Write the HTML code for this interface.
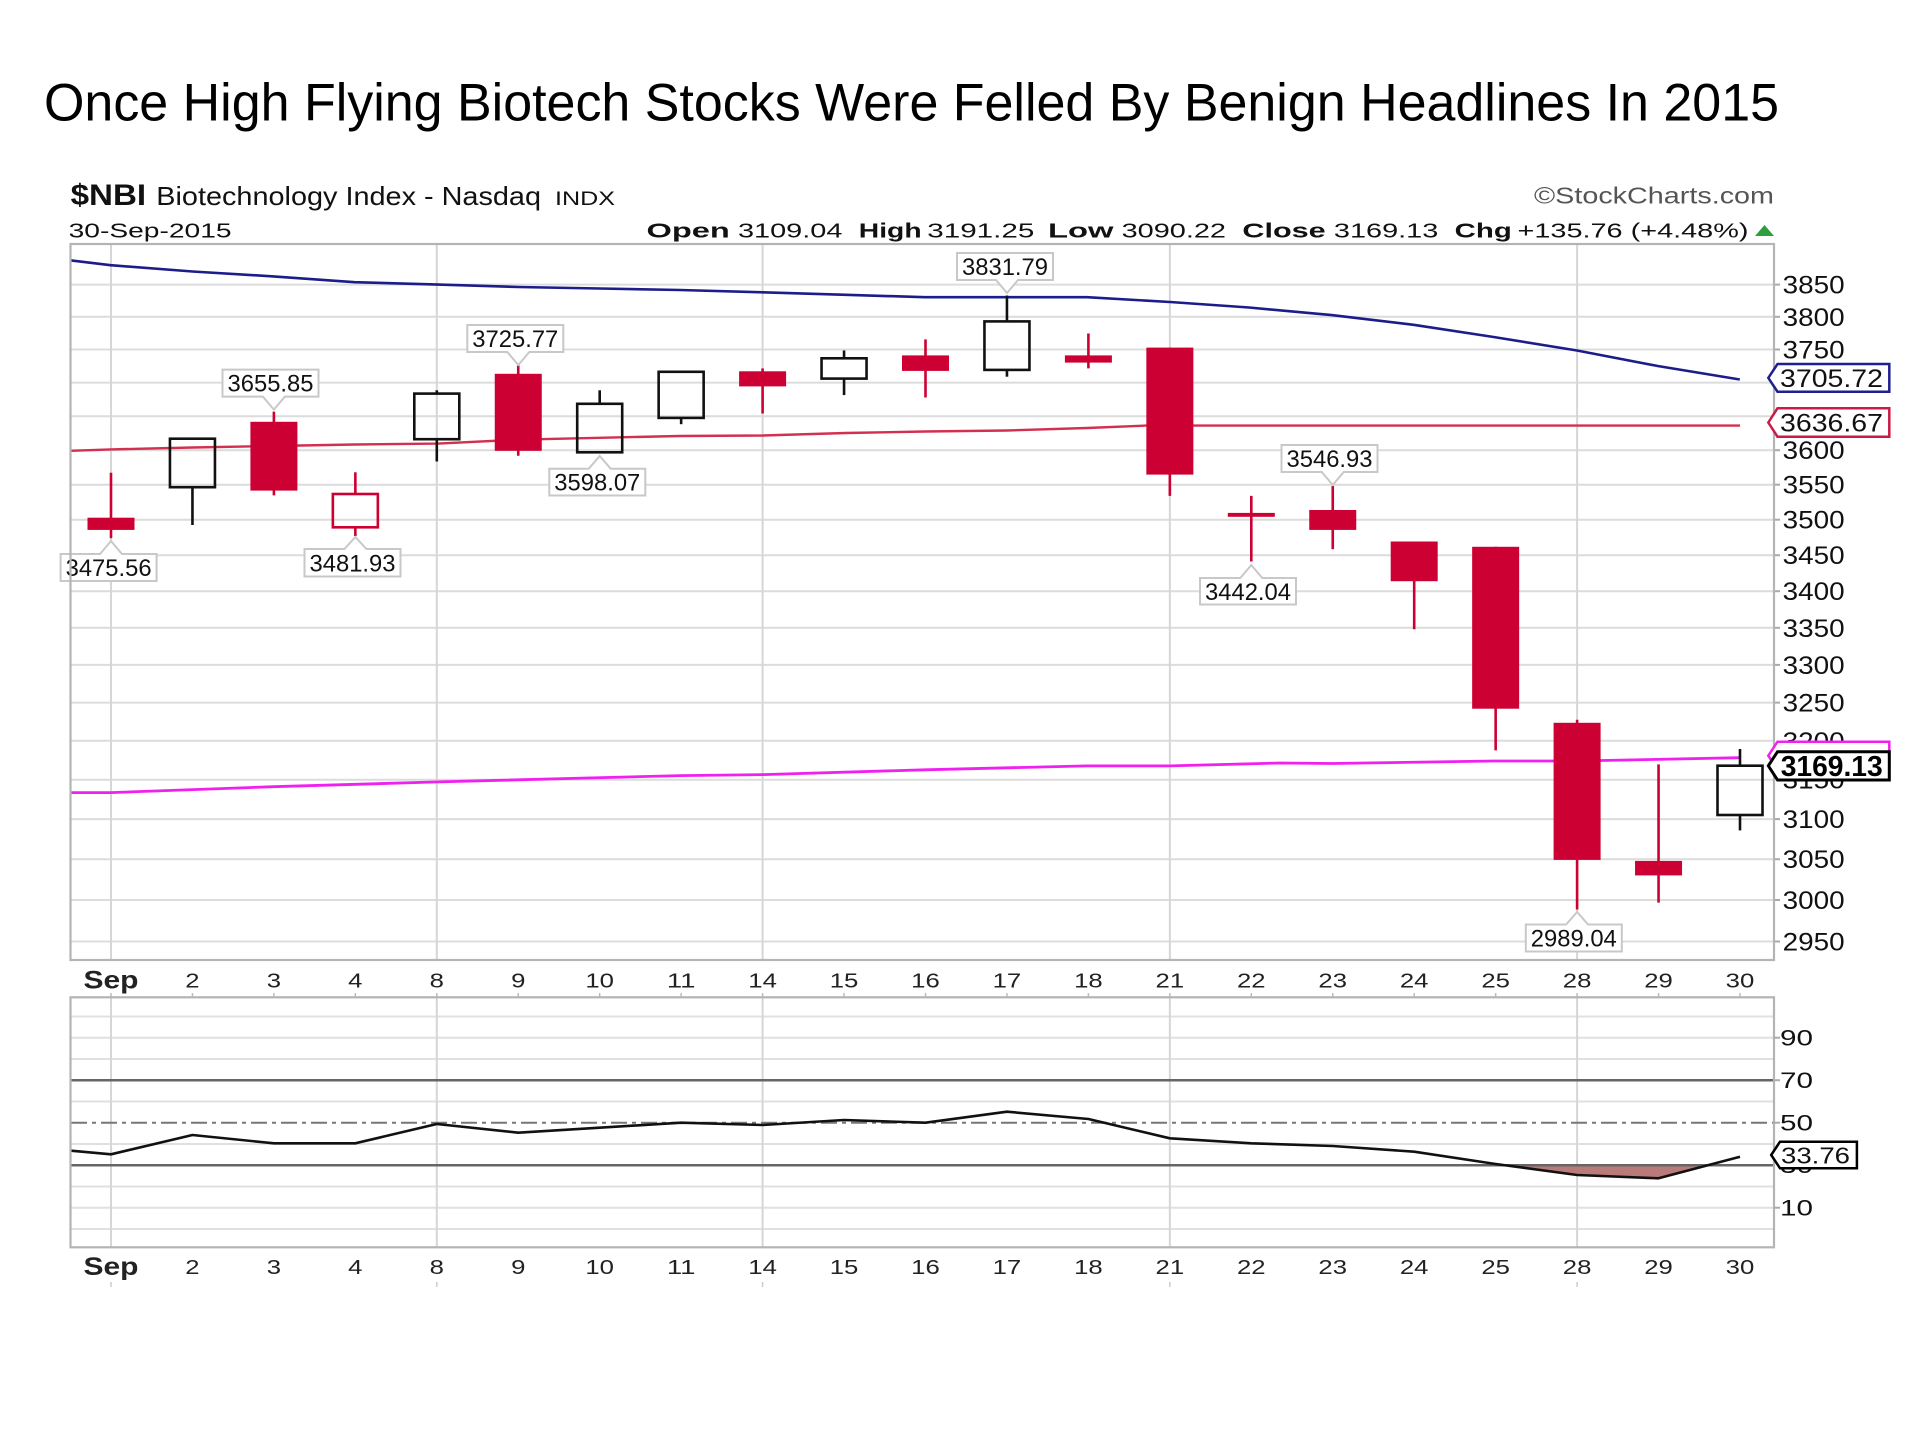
<!DOCTYPE html>
<html>
<head>
<meta charset="utf-8">
<style>
  html, body { margin:0; padding:0; background:#fff; }
  svg { display:block; }
  text { font-family: "Liberation Sans", Arial, sans-serif; }
</style>
</head>
<body>
<svg width="1920" height="1440" viewBox="0 0 1920 1440" xmlns="http://www.w3.org/2000/svg">
  <rect x="0" y="0" width="1920" height="1440" fill="#ffffff"/>

  <!-- Title -->
  <text x="44" y="120.7" font-size="53" fill="#000" textLength="1735" lengthAdjust="spacingAndGlyphs">Once High Flying Biotech Stocks Were Felled By Benign Headlines In 2015</text>

  <!-- Header -->
  <text x="70.6" y="205" font-size="30" font-weight="bold" fill="#111" textLength="75.5" lengthAdjust="spacingAndGlyphs">$NBI</text>
  <text x="156.3" y="205" font-size="26" fill="#111" textLength="384.7" lengthAdjust="spacingAndGlyphs">Biotechnology Index - Nasdaq</text>
  <text x="555" y="205" font-size="19" fill="#111" textLength="60" lengthAdjust="spacingAndGlyphs">INDX</text>
  <text x="68.6" y="237.3" font-size="20" fill="#111" textLength="163" lengthAdjust="spacingAndGlyphs">30-Sep-2015</text>
  <text x="1534" y="203.3" font-size="23" fill="#555" textLength="240" lengthAdjust="spacingAndGlyphs">©StockCharts.com</text>

  <g fill="#111">
    <text x="646.5" y="237.3" font-size="20" font-weight="bold" textLength="83.3" lengthAdjust="spacingAndGlyphs">Open</text>
    <text x="738" y="237.3" font-size="20" textLength="104.4" lengthAdjust="spacingAndGlyphs">3109.04</text>
    <text x="858.8" y="237.3" font-size="20" font-weight="bold" textLength="62.8" lengthAdjust="spacingAndGlyphs">High</text>
    <text x="927.3" y="237.3" font-size="20" textLength="107" lengthAdjust="spacingAndGlyphs">3191.25</text>
    <text x="1048" y="237.3" font-size="20" font-weight="bold" textLength="65.5" lengthAdjust="spacingAndGlyphs">Low</text>
    <text x="1121.6" y="237.3" font-size="20" textLength="104.4" lengthAdjust="spacingAndGlyphs">3090.22</text>
    <text x="1242.4" y="237.3" font-size="20" font-weight="bold" textLength="83.3" lengthAdjust="spacingAndGlyphs">Close</text>
    <text x="1333.9" y="237.3" font-size="20" textLength="104.4" lengthAdjust="spacingAndGlyphs">3169.13</text>
    <text x="1454.7" y="237.3" font-size="20" font-weight="bold" textLength="57.1" lengthAdjust="spacingAndGlyphs">Chg</text>
    <text x="1517.5" y="237.3" font-size="20" textLength="231" lengthAdjust="spacingAndGlyphs">+135.76 (+4.48%)</text>
  </g>
  <polygon points="1755,236 1774,236 1764.5,225" fill="#2e9e3e"/>

  <!-- ============ PRICE PANEL ============ -->
  <!-- horizontal gridlines -->
  <g stroke="#dcdcdc" stroke-width="2">
    <line x1="71" x2="1774" y1="284.6" y2="284.6"/>
    <line x1="71" x2="1774" y1="316.8" y2="316.8"/>
    <line x1="71" x2="1774" y1="349.5" y2="349.5"/>
    <line x1="71" x2="1774" y1="382.6" y2="382.6"/>
    <line x1="71" x2="1774" y1="416.2" y2="416.2"/>
    <line x1="71" x2="1774" y1="450.2" y2="450.2"/>
    <line x1="71" x2="1774" y1="484.7" y2="484.7"/>
    <line x1="71" x2="1774" y1="519.7" y2="519.7"/>
    <line x1="71" x2="1774" y1="555.2" y2="555.2"/>
    <line x1="71" x2="1774" y1="591.2" y2="591.2"/>
    <line x1="71" x2="1774" y1="627.8" y2="627.8"/>
    <line x1="71" x2="1774" y1="664.9" y2="664.9"/>
    <line x1="71" x2="1774" y1="702.6" y2="702.6"/>
    <line x1="71" x2="1774" y1="740.8" y2="740.8"/>
    <line x1="71" x2="1774" y1="779.7" y2="779.7"/>
    <line x1="71" x2="1774" y1="819.1" y2="819.1"/>
    <line x1="71" x2="1774" y1="859.2" y2="859.2"/>
    <line x1="71" x2="1774" y1="900.0" y2="900.0"/>
    <line x1="71" x2="1774" y1="941.5" y2="941.5"/>
  </g>
  <!-- vertical gridlines -->
  <g stroke="#d6d6d6" stroke-width="2">
    <line x1="111" x2="111" y1="244" y2="960"/>
    <line x1="436.8" x2="436.8" y1="244" y2="960"/>
    <line x1="762.6" x2="762.6" y1="244" y2="960"/>
    <line x1="1169.85" x2="1169.85" y1="244" y2="960"/>
    <line x1="1577.1" x2="1577.1" y1="244" y2="960"/>
  </g>
  <!-- right ticks -->
  <g stroke="#aaa" stroke-width="2">
    <line x1="1774" x2="1780" y1="284.6" y2="284.6"/>
    <line x1="1774" x2="1780" y1="316.8" y2="316.8"/>
    <line x1="1774" x2="1780" y1="349.5" y2="349.5"/>
    <line x1="1774" x2="1780" y1="450.2" y2="450.2"/>
    <line x1="1774" x2="1780" y1="484.7" y2="484.7"/>
    <line x1="1774" x2="1780" y1="519.7" y2="519.7"/>
    <line x1="1774" x2="1780" y1="555.2" y2="555.2"/>
    <line x1="1774" x2="1780" y1="591.2" y2="591.2"/>
    <line x1="1774" x2="1780" y1="627.8" y2="627.8"/>
    <line x1="1774" x2="1780" y1="664.9" y2="664.9"/>
    <line x1="1774" x2="1780" y1="702.6" y2="702.6"/>
    <line x1="1774" x2="1780" y1="819.1" y2="819.1"/>
    <line x1="1774" x2="1780" y1="859.2" y2="859.2"/>
    <line x1="1774" x2="1780" y1="900.0" y2="900.0"/>
    <line x1="1774" x2="1780" y1="941.5" y2="941.5"/>
  </g>

  <!-- Moving averages -->
  <polyline fill="none" stroke="#1c1c8a" stroke-width="2.6" points="71,260.4 110.6,265.2 192.5,271.5 273.5,276.4 354.6,282.2 438.4,284.6 517.9,287 599.7,288.5 680,290 762.8,292.3 845.8,294.8 925,297.2 1007,297.2 1087,297.2 1170,302 1249,307.5 1331.6,315.1 1413.6,324.8 1493.6,337 1577,350.5 1657.7,366 1739.8,379.5"/>
  <polyline fill="none" stroke="#d23050" stroke-width="2.4" points="71,450.8 110.6,449.4 192.5,447.5 273.5,446 354.6,444.5 438.4,443.6 517.9,439.7 599.7,437.8 680,436 762.8,435.5 845.8,433 925,431.5 1007,430.5 1087,428 1146,425.6 1740,425.6"/>
  <polyline fill="none" stroke="#f020f0" stroke-width="2.8" points="71,792.6 110.6,792.6 273.5,786.7 438.4,781.9 680,775.6 762.8,774.6 925,769.8 1087,765.9 1170,765.9 1280,763 1331.6,763.5 1493.6,761 1577,761 1739.8,757.7"/>

  <!-- Candles -->
  <g stroke-width="2.6">
    <!-- 0 Sep1 red filled -->
    <line x1="111" x2="111" y1="472.7" y2="538.1" stroke="#cc0033"/>
    <rect x="87.5" y="517.7" width="47" height="12.2" fill="#cc0033" stroke="none"/>
    <!-- 1 Sep2 hollow black -->
    <line x1="192.45" x2="192.45" y1="487.2" y2="525" stroke="#111"/>
    <rect x="169.95" y="438.7" width="45" height="48.5" fill="none" stroke="#111"/>
    <!-- 2 Sep3 red filled -->
    <line x1="273.9" x2="273.9" y1="411.6" y2="495.4" stroke="#cc0033"/>
    <rect x="250.4" y="421.8" width="47" height="68.8" fill="#cc0033" stroke="none"/>
    <!-- 3 Sep4 hollow red -->
    <line x1="355.35" x2="355.35" y1="472.3" y2="494" stroke="#cc0033"/>
    <line x1="355.35" x2="355.35" y1="527.3" y2="536" stroke="#cc0033"/>
    <rect x="332.85" y="494" width="45" height="33.3" fill="none" stroke="#cc0033"/>
    <!-- 4 Sep8 hollow black -->
    <line x1="436.8" x2="436.8" y1="390.3" y2="393.6" stroke="#111"/>
    <line x1="436.8" x2="436.8" y1="439.2" y2="461.5" stroke="#111"/>
    <rect x="414.3" y="393.6" width="45" height="45.6" fill="none" stroke="#111"/>
    <!-- 5 Sep9 red filled -->
    <line x1="518.25" x2="518.25" y1="365.5" y2="455.7" stroke="#cc0033"/>
    <rect x="494.75" y="373.8" width="47" height="77" fill="#cc0033" stroke="none"/>
    <!-- 6 Sep10 hollow black -->
    <line x1="599.7" x2="599.7" y1="390.3" y2="403.8" stroke="#111"/>
    <rect x="577.2" y="403.8" width="45" height="48.5" fill="none" stroke="#111"/>
    <!-- 7 Sep11 hollow black -->
    <line x1="681.15" x2="681.15" y1="417.9" y2="424.2" stroke="#111"/>
    <rect x="658.65" y="371.8" width="45" height="46.1" fill="none" stroke="#111"/>
    <!-- 8 Sep14 red filled -->
    <line x1="762.6" x2="762.6" y1="368.4" y2="413.5" stroke="#cc0033"/>
    <rect x="739.1" y="371.3" width="47" height="15.1" fill="#cc0033" stroke="none"/>
    <!-- 9 Sep15 hollow black -->
    <line x1="844.05" x2="844.05" y1="350.5" y2="358.3" stroke="#111"/>
    <line x1="844.05" x2="844.05" y1="378.6" y2="395.1" stroke="#111"/>
    <rect x="821.55" y="358.3" width="45" height="20.3" fill="none" stroke="#111"/>
    <!-- 10 Sep16 red filled -->
    <line x1="925.5" x2="925.5" y1="339.4" y2="397.5" stroke="#cc0033"/>
    <rect x="902" y="355.4" width="47" height="15.5" fill="#cc0033" stroke="none"/>
    <!-- 11 Sep17 hollow black -->
    <line x1="1006.95" x2="1006.95" y1="295.5" y2="321.4" stroke="#111"/>
    <line x1="1006.95" x2="1006.95" y1="369.9" y2="376.7" stroke="#111"/>
    <rect x="984.45" y="321.4" width="45" height="48.5" fill="none" stroke="#111"/>
    <!-- 12 Sep18 red filled -->
    <line x1="1088.4" x2="1088.4" y1="333.5" y2="368.4" stroke="#cc0033"/>
    <rect x="1064.9" y="355.4" width="47" height="7.2" fill="#cc0033" stroke="none"/>
    <!-- 13 Sep21 red filled -->
    <line x1="1169.85" x2="1169.85" y1="347.6" y2="495.9" stroke="#cc0033"/>
    <rect x="1146.35" y="347.6" width="47" height="127" fill="#cc0033" stroke="none"/>
    <!-- 14 Sep22 red -->
    <line x1="1251.3" x2="1251.3" y1="495.9" y2="561.5" stroke="#cc0033"/>
    <rect x="1227.8" y="512.9" width="47" height="3.9" fill="#cc0033" stroke="none"/>
    <!-- 15 Sep23 red -->
    <line x1="1332.75" x2="1332.75" y1="486" y2="549.2" stroke="#cc0033"/>
    <rect x="1309.25" y="510" width="47" height="19.9" fill="#cc0033" stroke="none"/>
    <!-- 16 Sep24 red -->
    <line x1="1414.2" x2="1414.2" y1="541.5" y2="629.2" stroke="#cc0033"/>
    <rect x="1390.7" y="541.5" width="47" height="39.7" fill="#cc0033" stroke="none"/>
    <!-- 17 Sep25 red -->
    <line x1="1495.65" x2="1495.65" y1="546.8" y2="750.4" stroke="#cc0033"/>
    <rect x="1472.15" y="546.8" width="47" height="161.9" fill="#cc0033" stroke="none"/>
    <!-- 18 Sep28 red -->
    <line x1="1577.1" x2="1577.1" y1="719.8" y2="909.5" stroke="#cc0033"/>
    <rect x="1553.6" y="722.8" width="47" height="137.1" fill="#cc0033" stroke="none"/>
    <!-- 19 Sep29 red -->
    <line x1="1658.55" x2="1658.55" y1="764.4" y2="902.6" stroke="#cc0033"/>
    <rect x="1635.05" y="860.9" width="47" height="14.5" fill="#cc0033" stroke="none"/>
    <!-- 20 Sep30 hollow black -->
    <line x1="1740" x2="1740" y1="749" y2="765.7" stroke="#111"/>
    <line x1="1740" x2="1740" y1="815" y2="830.4" stroke="#111"/>
    <rect x="1717.5" y="765.7" width="45" height="49.3" fill="none" stroke="#111"/>
  </g>

  <!-- Annotation labels -->
  <g fill="#fff" stroke="#c8c8c8" stroke-width="2">
    <!-- 3475.56 up -->
    <path d="M60.6,554 L100,554 L111,541 L122,554 L156.6,554 L156.6,581 L60.6,581 Z"/>
    <!-- 3655.85 down -->
    <path d="M222.5,369.6 L318.5,369.6 L318.5,396.6 L284.9,396.6 L273.9,409.6 L262.9,396.6 L222.5,396.6 Z"/>
    <!-- 3481.93 up -->
    <path d="M304.5,549 L344.4,549 L355.4,537 L366.4,549 L400.5,549 L400.5,576.5 L304.5,576.5 Z"/>
    <!-- 3725.77 down -->
    <path d="M467.3,325 L563.3,325 L563.3,352 L529.3,352 L518.3,365 L507.3,352 L467.3,352 Z"/>
    <!-- 3598.07 up -->
    <path d="M549.3,468.7 L588.7,468.7 L599.7,456 L610.7,468.7 L645.3,468.7 L645.3,495.5 L549.3,495.5 Z"/>
    <!-- 3831.79 down -->
    <path d="M957,253 L1053,253 L1053,280 L1018,280 L1007,293 L996,280 L957,280 Z"/>
    <!-- 3442.04 up -->
    <path d="M1200,578 L1240.3,578 L1251.3,565 L1262.3,578 L1296,578 L1296,604.5 L1200,604.5 Z"/>
    <!-- 3546.93 down -->
    <path d="M1281.5,445 L1377.5,445 L1377.5,472 L1343.75,472 L1332.75,485 L1321.75,472 L1281.5,472 Z"/>
    <!-- 2989.04 up -->
    <path d="M1525.8,924.5 L1566.1,924.5 L1577.1,912 L1588.1,924.5 L1621.8,924.5 L1621.8,951.5 L1525.8,951.5 Z"/>
  </g>
  <g fill="#111" font-size="24">
    <text x="65.6" y="576" textLength="86" lengthAdjust="spacingAndGlyphs">3475.56</text>
    <text x="227.5" y="391.6" textLength="86" lengthAdjust="spacingAndGlyphs">3655.85</text>
    <text x="309.5" y="571.5" textLength="86" lengthAdjust="spacingAndGlyphs">3481.93</text>
    <text x="472.3" y="347" textLength="86" lengthAdjust="spacingAndGlyphs">3725.77</text>
    <text x="554.3" y="490.6" textLength="86" lengthAdjust="spacingAndGlyphs">3598.07</text>
    <text x="962" y="275" textLength="86" lengthAdjust="spacingAndGlyphs">3831.79</text>
    <text x="1205" y="599.8" textLength="86" lengthAdjust="spacingAndGlyphs">3442.04</text>
    <text x="1286.5" y="467" textLength="86" lengthAdjust="spacingAndGlyphs">3546.93</text>
    <text x="1530.8" y="946.5" textLength="86" lengthAdjust="spacingAndGlyphs">2989.04</text>
  </g>

  <!-- Price panel frame -->
  <rect x="70.5" y="244" width="1703.5" height="716" fill="none" stroke="#b4b4b4" stroke-width="2.2"/>

  <!-- Y-axis labels -->
  <g fill="#111" font-size="25">
    <text x="1782.7" y="293.6" textLength="62" lengthAdjust="spacingAndGlyphs">3850</text>
    <text x="1782.7" y="325.8" textLength="62" lengthAdjust="spacingAndGlyphs">3800</text>
    <text x="1782.7" y="358.5" textLength="62" lengthAdjust="spacingAndGlyphs">3750</text>
    <text x="1782.7" y="391.6" textLength="62" lengthAdjust="spacingAndGlyphs">3700</text>
    <text x="1782.7" y="425.2" textLength="62" lengthAdjust="spacingAndGlyphs">3650</text>
    <text x="1782.7" y="459.2" textLength="62" lengthAdjust="spacingAndGlyphs">3600</text>
    <text x="1782.7" y="493.7" textLength="62" lengthAdjust="spacingAndGlyphs">3550</text>
    <text x="1782.7" y="528.7" textLength="62" lengthAdjust="spacingAndGlyphs">3500</text>
    <text x="1782.7" y="564.2" textLength="62" lengthAdjust="spacingAndGlyphs">3450</text>
    <text x="1782.7" y="600.2" textLength="62" lengthAdjust="spacingAndGlyphs">3400</text>
    <text x="1782.7" y="636.8" textLength="62" lengthAdjust="spacingAndGlyphs">3350</text>
    <text x="1782.7" y="673.9" textLength="62" lengthAdjust="spacingAndGlyphs">3300</text>
    <text x="1782.7" y="711.6" textLength="62" lengthAdjust="spacingAndGlyphs">3250</text>
    <text x="1782.7" y="749.8" textLength="62" lengthAdjust="spacingAndGlyphs">3200</text>
    <text x="1782.7" y="788.7" textLength="62" lengthAdjust="spacingAndGlyphs">3150</text>
    <text x="1782.7" y="828.1" textLength="62" lengthAdjust="spacingAndGlyphs">3100</text>
    <text x="1782.7" y="868.2" textLength="62" lengthAdjust="spacingAndGlyphs">3050</text>
    <text x="1782.7" y="909.0" textLength="62" lengthAdjust="spacingAndGlyphs">3000</text>
    <text x="1782.7" y="950.5" textLength="62" lengthAdjust="spacingAndGlyphs">2950</text>
  </g>

  <!-- Right-axis value tags -->
  <path d="M1768.3,377.9 L1777.5,364 L1889.3,364 L1889.3,391.7 L1777.5,391.7 Z" fill="#fff" stroke="#1f1f8f" stroke-width="2.5"/>
  <text x="1780" y="386.9" font-size="25" fill="#111" textLength="103" lengthAdjust="spacingAndGlyphs">3705.72</text>
  <path d="M1768.3,422.5 L1777.5,408.3 L1889.3,408.3 L1889.3,436.7 L1777.5,436.7 Z" fill="#fff" stroke="#cc1a44" stroke-width="2.5"/>
  <text x="1780" y="431.5" font-size="25" fill="#111" textLength="103" lengthAdjust="spacingAndGlyphs">3636.67</text>
  <path d="M1768.3,755.7 L1777.5,741.7 L1889.3,741.7 L1889.3,769.7 L1777.5,769.7 Z" fill="#fff" stroke="#f020f0" stroke-width="2.5"/>
  <path d="M1768.3,765.8 L1777.5,751.7 L1889.3,751.7 L1889.3,780 L1777.5,780 Z" fill="#fff" stroke="#000" stroke-width="3"/>
  <text x="1780.7" y="776" font-size="29" font-weight="bold" fill="#000" textLength="102" lengthAdjust="spacingAndGlyphs">3169.13</text>

  <!-- X-axis labels (top) -->
  <g fill="#222" font-size="20.5">
    <text x="83.5" y="988.3" font-size="25" font-weight="bold" textLength="55" lengthAdjust="spacingAndGlyphs">Sep</text>
    <text x="185.3" y="987.5" textLength="14.3" lengthAdjust="spacingAndGlyphs">2</text>
    <text x="266.75" y="987.5" textLength="14.3" lengthAdjust="spacingAndGlyphs">3</text>
    <text x="348.2" y="987.5" textLength="14.3" lengthAdjust="spacingAndGlyphs">4</text>
    <text x="429.65" y="987.5" textLength="14.3" lengthAdjust="spacingAndGlyphs">8</text>
    <text x="511.1" y="987.5" textLength="14.3" lengthAdjust="spacingAndGlyphs">9</text>
    <text x="585.4" y="987.5" textLength="28.6" lengthAdjust="spacingAndGlyphs">10</text>
    <text x="666.85" y="987.5" textLength="28.6" lengthAdjust="spacingAndGlyphs">11</text>
    <text x="748.3" y="987.5" textLength="28.6" lengthAdjust="spacingAndGlyphs">14</text>
    <text x="829.75" y="987.5" textLength="28.6" lengthAdjust="spacingAndGlyphs">15</text>
    <text x="911.2" y="987.5" textLength="28.6" lengthAdjust="spacingAndGlyphs">16</text>
    <text x="992.65" y="987.5" textLength="28.6" lengthAdjust="spacingAndGlyphs">17</text>
    <text x="1074.1" y="987.5" textLength="28.6" lengthAdjust="spacingAndGlyphs">18</text>
    <text x="1155.55" y="987.5" textLength="28.6" lengthAdjust="spacingAndGlyphs">21</text>
    <text x="1237" y="987.5" textLength="28.6" lengthAdjust="spacingAndGlyphs">22</text>
    <text x="1318.45" y="987.5" textLength="28.6" lengthAdjust="spacingAndGlyphs">23</text>
    <text x="1399.9" y="987.5" textLength="28.6" lengthAdjust="spacingAndGlyphs">24</text>
    <text x="1481.35" y="987.5" textLength="28.6" lengthAdjust="spacingAndGlyphs">25</text>
    <text x="1562.8" y="987.5" textLength="28.6" lengthAdjust="spacingAndGlyphs">28</text>
    <text x="1644.25" y="987.5" textLength="28.6" lengthAdjust="spacingAndGlyphs">29</text>
    <text x="1725.7" y="987.5" textLength="28.6" lengthAdjust="spacingAndGlyphs">30</text>
  </g>
  <!-- small ticks above RSI panel -->
  <g stroke="#bbb" stroke-width="1.5">
    <line x1="111" x2="111" y1="993" y2="997"/><line x1="192.45" x2="192.45" y1="993" y2="997"/>
    <line x1="273.9" x2="273.9" y1="993" y2="997"/><line x1="355.35" x2="355.35" y1="993" y2="997"/>
    <line x1="436.8" x2="436.8" y1="993" y2="997"/><line x1="518.25" x2="518.25" y1="993" y2="997"/>
    <line x1="599.7" x2="599.7" y1="993" y2="997"/><line x1="681.15" x2="681.15" y1="993" y2="997"/>
    <line x1="762.6" x2="762.6" y1="993" y2="997"/><line x1="844.05" x2="844.05" y1="993" y2="997"/>
    <line x1="925.5" x2="925.5" y1="993" y2="997"/><line x1="1006.95" x2="1006.95" y1="993" y2="997"/>
    <line x1="1088.4" x2="1088.4" y1="993" y2="997"/><line x1="1169.85" x2="1169.85" y1="993" y2="997"/>
    <line x1="1251.3" x2="1251.3" y1="993" y2="997"/><line x1="1332.75" x2="1332.75" y1="993" y2="997"/>
    <line x1="1414.2" x2="1414.2" y1="993" y2="997"/><line x1="1495.65" x2="1495.65" y1="993" y2="997"/>
    <line x1="1577.1" x2="1577.1" y1="993" y2="997"/><line x1="1658.55" x2="1658.55" y1="993" y2="997"/>
    <line x1="1740" x2="1740" y1="993" y2="997"/>
  </g>

  <!-- ============ RSI PANEL ============ -->
  <g stroke="#e0e0e0" stroke-width="2">
    <line x1="71" x2="1774" y1="1016.45" y2="1016.45"/>
    <line x1="71" x2="1774" y1="1037.7" y2="1037.7"/>
    <line x1="71" x2="1774" y1="1058.95" y2="1058.95"/>
    <line x1="71" x2="1774" y1="1101.45" y2="1101.45"/>
    <line x1="71" x2="1774" y1="1143.95" y2="1143.95"/>
    <line x1="71" x2="1774" y1="1186.45" y2="1186.45"/>
    <line x1="71" x2="1774" y1="1207.7" y2="1207.7"/>
    <line x1="71" x2="1774" y1="1228.95" y2="1228.95"/>
  </g>
  <g stroke="#d6d6d6" stroke-width="2">
    <line x1="111" x2="111" y1="997.3" y2="1247.3"/>
    <line x1="436.8" x2="436.8" y1="997.3" y2="1247.3"/>
    <line x1="762.6" x2="762.6" y1="997.3" y2="1247.3"/>
    <line x1="1169.85" x2="1169.85" y1="997.3" y2="1247.3"/>
    <line x1="1577.1" x2="1577.1" y1="997.3" y2="1247.3"/>
  </g>
  <!-- oversold fill -->
  <polygon points="1504.5,1165.2 1577.1,1175 1658.55,1178.3 1707.6,1165.2" fill="#b97a7a"/>
  <!-- 70 / 30 / 50 lines -->
  <line x1="71" x2="1774" y1="1080.2" y2="1080.2" stroke="#666" stroke-width="2.5"/>
  <line x1="71" x2="1774" y1="1165.2" y2="1165.2" stroke="#666" stroke-width="2.5"/>
  <line x1="71" x2="1774" y1="1122.7" y2="1122.7" stroke="#777" stroke-width="2" stroke-dasharray="16 5 4 5"/>
  <!-- RSI line -->
  <polyline fill="none" stroke="#111" stroke-width="2.6" stroke-linejoin="round" points="71,1150.7 111,1154.3 192.45,1135 273.9,1143.3 355.35,1143.3 436.8,1124 518.25,1132.7 599.7,1127.7 681.15,1122.7 762.6,1125 844.05,1120 925.5,1122.7 1006.95,1111.7 1088.4,1119 1169.85,1138.3 1251.3,1143.3 1332.75,1146 1414.2,1151.7 1495.65,1164 1577.1,1175 1658.55,1178.3 1740,1156.7"/>
  <!-- RSI frame -->
  <rect x="70.5" y="997.3" width="1703.5" height="250" fill="none" stroke="#b4b4b4" stroke-width="2.2"/>
  <!-- RSI right ticks -->
  <g stroke="#aaa" stroke-width="2">
    <line x1="1774" x2="1780" y1="1037.7" y2="1037.7"/>
    <line x1="1774" x2="1780" y1="1080.2" y2="1080.2"/>
    <line x1="1774" x2="1780" y1="1122.7" y2="1122.7"/>
    <line x1="1774" x2="1780" y1="1207.7" y2="1207.7"/>
  </g>
  <!-- RSI labels -->
  <g fill="#111" font-size="22">
    <text x="1780" y="1045.5" textLength="33" lengthAdjust="spacingAndGlyphs">90</text>
    <text x="1780" y="1088" textLength="33" lengthAdjust="spacingAndGlyphs">70</text>
    <text x="1780" y="1130.5" textLength="33" lengthAdjust="spacingAndGlyphs">50</text>
    <text x="1780" y="1173" textLength="33" lengthAdjust="spacingAndGlyphs">30</text>
    <text x="1780" y="1215.5" textLength="33" lengthAdjust="spacingAndGlyphs">10</text>
  </g>
  <path d="M1771.2,1155 L1780,1141.7 L1856.9,1141.7 L1856.9,1168.3 L1780,1168.3 Z" fill="#fff" stroke="#000" stroke-width="2.5"/>
  <text x="1781" y="1163.3" font-size="23" fill="#111" textLength="69" lengthAdjust="spacingAndGlyphs">33.76</text>

  <!-- X-axis labels (bottom) -->
  <g fill="#222" font-size="20.5">
    <text x="83.5" y="1275" font-size="25" font-weight="bold" textLength="55" lengthAdjust="spacingAndGlyphs">Sep</text>
    <text x="185.3" y="1274" textLength="14.3" lengthAdjust="spacingAndGlyphs">2</text>
    <text x="266.75" y="1274" textLength="14.3" lengthAdjust="spacingAndGlyphs">3</text>
    <text x="348.2" y="1274" textLength="14.3" lengthAdjust="spacingAndGlyphs">4</text>
    <text x="429.65" y="1274" textLength="14.3" lengthAdjust="spacingAndGlyphs">8</text>
    <text x="511.1" y="1274" textLength="14.3" lengthAdjust="spacingAndGlyphs">9</text>
    <text x="585.4" y="1274" textLength="28.6" lengthAdjust="spacingAndGlyphs">10</text>
    <text x="666.85" y="1274" textLength="28.6" lengthAdjust="spacingAndGlyphs">11</text>
    <text x="748.3" y="1274" textLength="28.6" lengthAdjust="spacingAndGlyphs">14</text>
    <text x="829.75" y="1274" textLength="28.6" lengthAdjust="spacingAndGlyphs">15</text>
    <text x="911.2" y="1274" textLength="28.6" lengthAdjust="spacingAndGlyphs">16</text>
    <text x="992.65" y="1274" textLength="28.6" lengthAdjust="spacingAndGlyphs">17</text>
    <text x="1074.1" y="1274" textLength="28.6" lengthAdjust="spacingAndGlyphs">18</text>
    <text x="1155.55" y="1274" textLength="28.6" lengthAdjust="spacingAndGlyphs">21</text>
    <text x="1237" y="1274" textLength="28.6" lengthAdjust="spacingAndGlyphs">22</text>
    <text x="1318.45" y="1274" textLength="28.6" lengthAdjust="spacingAndGlyphs">23</text>
    <text x="1399.9" y="1274" textLength="28.6" lengthAdjust="spacingAndGlyphs">24</text>
    <text x="1481.35" y="1274" textLength="28.6" lengthAdjust="spacingAndGlyphs">25</text>
    <text x="1562.8" y="1274" textLength="28.6" lengthAdjust="spacingAndGlyphs">28</text>
    <text x="1644.25" y="1274" textLength="28.6" lengthAdjust="spacingAndGlyphs">29</text>
    <text x="1725.7" y="1274" textLength="28.6" lengthAdjust="spacingAndGlyphs">30</text>
  </g>
  <g stroke="#ccc" stroke-width="1.5">
    <line x1="111" x2="111" y1="1282" y2="1287"/>
    <line x1="436.8" x2="436.8" y1="1282" y2="1287"/>
    <line x1="762.6" x2="762.6" y1="1282" y2="1287"/>
    <line x1="1169.85" x2="1169.85" y1="1282" y2="1287"/>
    <line x1="1577.1" x2="1577.1" y1="1282" y2="1287"/>
  </g>
</svg>
</body>
</html>
